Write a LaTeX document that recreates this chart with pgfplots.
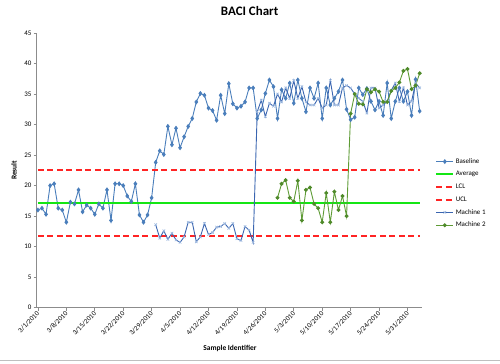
\documentclass[border=0pt]{standalone}
\usepackage{fontspec}
\setmainfont{Carlito}
\usepackage{pgfplots}
\usepackage{pgfplotstable}
\pgfplotsset{compat=1.18}
\definecolor{baseblue}{HTML}{4A7EBB}
\definecolor{m1blue}{HTML}{3A65B0}
\definecolor{m1mark}{HTML}{9DB9E0}
\definecolor{m2green}{HTML}{5E9B35}
\definecolor{m2mark}{HTML}{4F8A2A}
\definecolor{avggreen}{HTML}{14E614}
\definecolor{clred}{HTML}{FF2424}
\definecolor{axgray}{HTML}{8C8C8C}

\pgfplotstableread{
x y
0 16.0
1 16.3
2 15.3
3 20.0
4 20.3
5 16.3
6 16.0
7 14.0
8 17.3
9 17.0
10 19.3
11 15.7
12 16.8
13 16.3
14 15.3
15 17.0
16 16.3
17 19.3
18 14.3
19 20.3
20 20.3
21 20.0
22 18.3
23 17.4
24 20.3
25 15.2
26 14.0
27 15.2
28 18.0
29 23.8
30 25.7
31 25.1
32 29.7
33 26.7
34 29.4
35 26.2
36 28.0
37 29.7
38 31.0
39 33.7
40 35.1
41 34.8
42 32.7
43 32.3
44 30.7
45 34.8
46 31.8
47 36.7
48 33.4
49 32.7
50 33.0
51 33.7
52 36.0
53 36.0
54 31.0
55 32.4
56 35.1
57 37.3
58 36.2
59 31.0
60 35.7
61 34.3
62 36.8
63 33.5
64 37.3
65 34.3
66 32.1
67 36.0
68 34.3
69 36.8
70 31.0
71 36.0
72 33.2
73 34.3
74 35.4
75 37.3
76 32.5
77 30.8
78 31.2
79 36.0
80 34.9
81 35.9
82 33.8
83 32.4
84 33.8
85 31.5
86 36.8
87 31.0
88 33.8
89 36.0
90 33.8
91 35.4
92 31.5
93 37.4
94 32.2
}\tblBase

\pgfplotstableread{
x y
29 13.6
30 11.4
31 12.6
32 11.2
33 12.2
34 11.1
35 10.7
36 11.6
37 14.0
38 14.0
39 10.8
40 11.6
41 13.8
42 12.0
43 12.3
44 13.2
45 13.3
46 13.8
47 13.0
48 13.8
49 11.3
50 11.0
51 13.3
52 12.7
53 10.7
54 32.1
55 34.0
56 31.3
57 33.5
58 33.0
59 35.0
60 33.7
61 36.0
62 34.3
63 37.2
64 34.3
65 36.2
66 33.7
67 33.2
68 33.2
69 34.3
70 32.7
71 33.2
72 37.2
73 33.2
74 33.2
75 36.0
76 36.4
77 36.0
78 35.0
79 34.3
80 33.8
81 31.9
82 36.0
83 36.0
84 32.7
85 33.2
86 33.8
87 35.6
88 36.8
89 33.8
90 36.0
91 33.2
92 33.8
93 36.8
94 36.0
}\tblMa

\pgfplotstableread{
x y
59 18.0
60 20.3
61 20.9
62 18.0
63 17.4
64 20.8
65 14.3
66 19.3
67 19.7
68 17.0
69 16.3
70 14.0
71 18.8
72 14.0
73 19.0
74 16.0
75 18.3
76 15.0
77 31.8
78 35.0
79 33.4
80 33.3
81 35.8
82 35.3
83 35.8
84 35.4
85 33.7
86 33.7
87 35.5
88 36.0
89 36.9
90 38.8
91 39.1
92 35.8
93 36.4
94 38.4
}\tblMb

\begin{document}
\begin{tikzpicture}
\path[use as bounding box] (-36.7bp,-56.3bp) rectangle (463.3bp,307.7bp);
\draw[color=black!25, line width=0.8bp] (-36.7bp,-52.3bp) -- (463.3bp,-52.3bp);
\begin{axis}[
  at={(0,0)}, anchor=south west,
  scale only axis, width=385bp, height=274.7bp,
  xmin=-0.3, xmax=94.5, ymin=0, ymax=45,
  axis x line=bottom, axis y line=left,
  axis line style={-, color=axgray, line width=0.7bp},
  major tick style={color=axgray, line width=0.6bp},
  tick align=outside, major tick length=3bp,
  ytick distance=5,
  xtick={0,7,14,21,28,35,42,49,56,63,70,77,84,91},
  xticklabels={3/1/2010,3/8/2010,3/15/2010,3/22/2010,3/29/2010,4/5/2010,4/12/2010,4/19/2010,4/26/2010,5/3/2010,5/10/2010,5/17/2010,5/24/2010,5/31/2010},
  /pgf/number format/assume math mode=true,
  ticklabel style={font=\fontsize{7}{8}\selectfont},
  xticklabel style={rotate=45, anchor=east, inner sep=1bp, yshift=-1.5bp},
  yticklabel style={inner sep=2bp},
  xlabel={Sample Identifier},
  ylabel={Result},
  label style={font=\fontsize{7.5}{9}\selectfont\bfseries},
  xlabel style={at={(axis description cs:0.502,-0.150)}, anchor=center},
  ylabel style={at={(axis description cs:-0.059,0.5)}, anchor=center},
  title={BACI Chart},
  title style={font=\fontsize{13}{15}\selectfont\bfseries, at={(axis description cs:0.553,1.058)}, anchor=center},
  legend style={draw=none, fill=none, at={(1.035,0.416)}, anchor=west,
    font=\fontsize{7}{8}\selectfont, row sep=3.6bp, inner sep=0pt,
    nodes={inner sep=1.5bp}},
  legend cell align=left,
  clip=false,
]
\addplot[color=baseblue, line width=0.9bp, mark=diamond*, mark size=1.8bp, mark options={solid, fill=baseblue, draw=baseblue}] table[x=x,y=y] {\tblBase};
\addlegendentry{Baseline}
\addplot[color=avggreen, line width=1.9bp, mark=none] coordinates {(0,17.1) (94,17.1)};
\addlegendentry{Average}
\addplot[color=clred, line width=1.9bp, dash pattern=on 6bp off 3.5bp, mark=none] coordinates {(0,11.7) (94,11.7)};
\addlegendentry{LCL}
\addplot[color=clred, line width=1.9bp, dash pattern=on 6bp off 3.5bp, mark=none] coordinates {(0,22.6) (94,22.6)};
\addlegendentry{UCL}
\addplot[color=m1blue, line width=0.9bp, mark=x, mark size=1.8bp, mark options={solid, draw=m1mark, line width=0.6bp}] table[x=x,y=y] {\tblMa};
\addlegendentry{Machine 1}
\addplot[color=m2green, line width=0.9bp, mark=*, mark size=1.5bp, mark options={solid, fill=m2mark, draw=m2mark}] table[x=x,y=y] {\tblMb};
\addlegendentry{Machine 2}
\end{axis}
\end{tikzpicture}
\end{document}
